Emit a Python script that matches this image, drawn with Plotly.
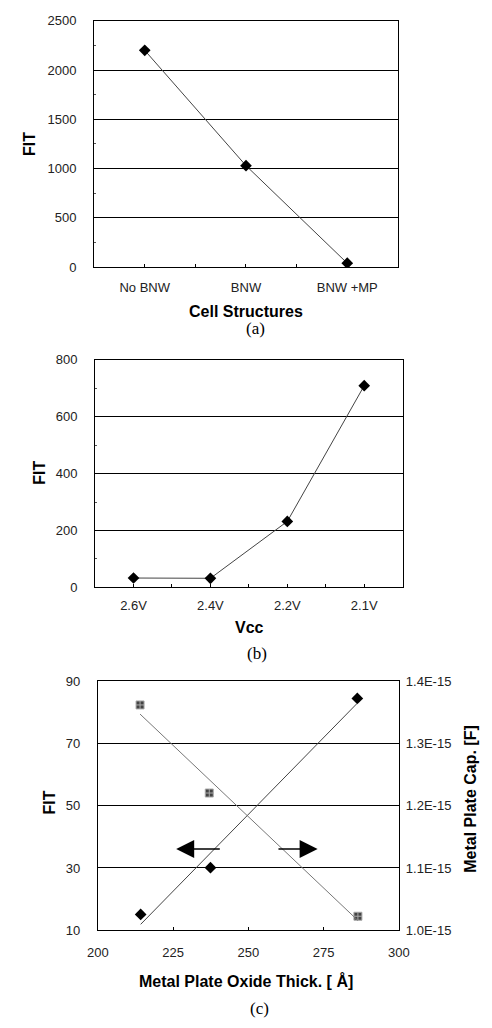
import numpy as np
import plotly.graph_objects as go

W, H = 492, 1028

# ---- data ----
cells = ["No BNW", "BNW", "BNW +MP"]
fit_cells = [2200, 1030, 40]

vcc = ["2.6V", "2.4V", "2.2V", "2.1V"]
fit_vcc = [33, 32, 232, 709]

thick = [214.2, 237.4, 286.2]
fit_thick = [15.1, 30.1, 84.4]
cap_thick = [214.0, 237.0, 286.4]
cap_vals = [1.3616e-15, 1.2203e-15, 1.0226e-15]

cap_ticks = [1.0e-15, 1.1e-15, 1.2e-15, 1.3e-15, 1.4e-15]
cap_ticktext = ["1.0E-15", "1.1E-15", "1.2E-15", "1.3E-15", "1.4E-15"]

# linear trendlines (Excel-style)
fx = np.array([min(thick), max(thick)])
p_fit = np.polyfit(thick, fit_thick, 1)
p_cap = np.polyfit(cap_thick, cap_vals, 1)
cx = np.array([min(cap_thick), max(cap_thick)])


def px(x):
    return x / W


def py(y):
    return 1 - y / H


FONT = "Liberation Sans, Arial, sans-serif"
tickfont = dict(family=FONT, size=13, color="#222")
LINE = "#444"

fig = go.Figure()

# (a)
fig.add_trace(go.Scatter(x=list(range(len(cells))), y=fit_cells, mode="lines+markers",
                         line=dict(color=LINE, width=1),
                         marker=dict(symbol="diamond", size=9, color="black"),
                         xaxis="x", yaxis="y", showlegend=False))
# (b)
fig.add_trace(go.Scatter(x=list(range(len(vcc))), y=fit_vcc, mode="lines+markers",
                         line=dict(color=LINE, width=1),
                         marker=dict(symbol="diamond", size=9, color="black"),
                         xaxis="x2", yaxis="y2", showlegend=False))
# (c) FIT
fig.add_trace(go.Scatter(x=thick, y=fit_thick, mode="markers",
                         marker=dict(symbol="diamond", size=9, color="black"),
                         xaxis="x3", yaxis="y3", showlegend=False))
fig.add_trace(go.Scatter(x=fx, y=np.polyval(p_fit, fx), mode="lines",
                         line=dict(color=LINE, width=1),
                         xaxis="x3", yaxis="y3", showlegend=False))
# (c) capacitance
fig.add_trace(go.Scatter(x=cap_thick, y=cap_vals, mode="markers",
                         marker=dict(symbol="square-cross", size=8, color="#444",
                                     line=dict(color="#aaa", width=1)),
                         xaxis="x3", yaxis="y4", showlegend=False))
fig.add_trace(go.Scatter(x=cx, y=np.polyval(p_cap, cx), mode="lines",
                         line=dict(color="#777", width=1),
                         xaxis="x3", yaxis="y4", showlegend=False))

common_x = dict(showline=True, linecolor="black", linewidth=1, mirror=True,
                showgrid=False, zeroline=False, tickfont=tickfont,
                ticks="inside", ticklen=3, tickcolor="black")
common_y = dict(showline=True, linecolor="black", linewidth=1, mirror=True,
                showgrid=True, gridcolor="black", gridwidth=1, zeroline=False,
                tickfont=tickfont, ticks="", ticklabelstandoff=14)

fig.update_layout(
    width=W, height=H, margin=dict(l=0, r=0, t=0, b=0),
    paper_bgcolor="white", plot_bgcolor="white",
    xaxis=dict(common_x, domain=[px(87), px(405)], range=[-0.5, 2.5],
               tickvals=list(range(len(cells))), ticktext=cells, anchor="y",
               minor=dict(ticks="inside", dtick=0.5, tick0=0, ticklen=3, tickcolor="black"),
               ticklabelstandoff=8),
    yaxis=dict(common_y, domain=[py(264), py(14)], range=[0, 2500], dtick=500, anchor="x",
               minor=dict(ticks="inside", dtick=250, ticklen=2, tickcolor="#555")),
    xaxis2=dict(common_x, domain=[px(88), px(410)], range=[-0.5, 3.5],
                tickvals=list(range(len(vcc))), ticktext=vcc, anchor="y2",
                minor=dict(ticks="inside", dtick=0.5, tick0=0, ticklen=3, tickcolor="black"),
                ticklabelstandoff=6),
    yaxis2=dict(common_y, domain=[py(589), py(358)], range=[0, 800], dtick=200, anchor="x2",
                minor=dict(ticks="inside", dtick=100, ticklen=2, tickcolor="#555")),
    xaxis3=dict(common_x, domain=[px(91), px(406)], range=[200, 300], dtick=25, anchor="y3",
                ticklabelstandoff=10),
    yaxis3=dict(common_y, domain=[py(937), py(684)], range=[10, 90], tick0=10, dtick=20,
                anchor="x3"),
    yaxis4=dict(showline=False, showgrid=False, zeroline=False, tickfont=tickfont,
                overlaying="y3", side="right", anchor="x3", range=[1.0e-15, 1.4e-15],
                tickvals=cap_ticks, ticktext=cap_ticktext, ticks="", ticklabelstandoff=6),
)

title_font = dict(family=FONT, size=16, color="black")
label_font = dict(family="Liberation Serif, Times New Roman, serif", size=17, color="black")

annots = [
    ("<b>FIT</b>", 20, 139, -90, title_font),
    ("<b>Cell Structures</b>", 246, 309, 0, title_font),
    ("(a)", 256, 326, 0, label_font),
    ("<b>FIT</b>", 29, 473, -90, title_font),
    ("<b>Vcc</b>", 250, 630, 0, title_font),
    ("(b)", 257, 656, 0, label_font),
    ("<b>FIT</b>", 40, 807, -90, title_font),
    ("<b>Metal Plate Cap. [F]</b>", 481, 803, -90, title_font),
    ("<b>Metal Plate Oxide Thick. [ Å]</b>", 246, 988, 0, title_font),
    ("(c)", 260, 1016, 0, label_font),
]
for text, x, y, ang, f in annots:
    fig.add_annotation(text=text, x=px(x), y=py(y), xref="paper", yref="paper",
                       showarrow=False, textangle=ang, font=f,
                       xanchor="center", yanchor="middle")

# direction arrows in panel (c): left -> FIT axis, right -> Cap axis
arrow_y = 36.1
left_arrow = (241.0, 226.0)
right_arrow = (259.5, 273.0)
for tail, head in [left_arrow, right_arrow]:
    fig.add_annotation(x=head, y=arrow_y, ax=tail, ay=arrow_y, xref="x3", yref="y3",
                       axref="x3", ayref="y3", showarrow=True, arrowhead=2,
                       arrowsize=2.4, arrowwidth=1.5, arrowcolor="black", text="")

fig.write_html("out.html", config={"displayModeBar": False},
               post_script="document.body.style.margin='0';document.body.style.overflow='hidden';")
